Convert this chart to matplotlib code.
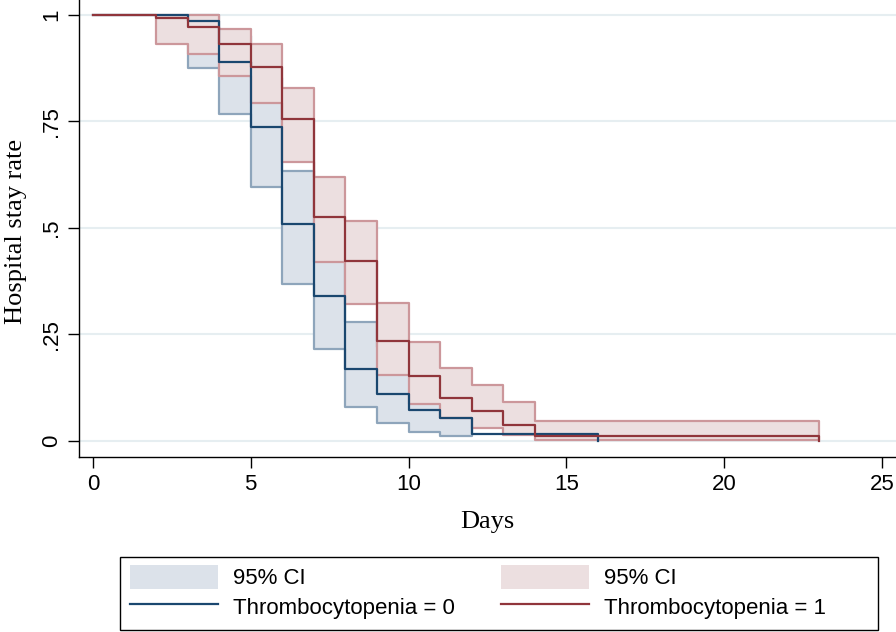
import matplotlib
matplotlib.use("Agg")
import matplotlib.pyplot as plt
from matplotlib.patches import Rectangle, Patch
from matplotlib.lines import Line2D

# Kaplan-Meier step values
days0 = [0, 3, 4, 5, 6, 7, 8, 9, 10, 11, 12, 16]
surv0 = [1.0, 0.984, 0.889, 0.737, 0.509, 0.339, 0.168, 0.111, 0.073, 0.055, 0.016, 0.0]
days1 = [0, 2, 3, 4, 5, 6, 7, 8, 9, 10, 11, 12, 13, 14, 23]
surv1 = [1.0, 0.991, 0.971, 0.930, 0.877, 0.755, 0.525, 0.422, 0.235, 0.153, 0.101, 0.070, 0.038, 0.012, 0.0]

# 95% CI bands (one value per interval, last day closes the band)
ci_days0 = [3, 4, 5, 6, 7, 8, 9, 10, 11, 12]
ci_lo0 = [0.875, 0.766, 0.595, 0.367, 0.215, 0.080, 0.043, 0.021, 0.012]
ci_hi0 = [0.999, 0.950, 0.850, 0.634, 0.470, 0.280, 0.220, 0.170, 0.130]
ci_days1 = [2, 3, 4, 5, 6, 7, 8, 9, 10, 11, 12, 13, 14, 23]
ci_lo1 = [0.932, 0.908, 0.855, 0.792, 0.653, 0.420, 0.322, 0.155, 0.086, 0.055, 0.030, 0.013, 0.002]
ci_hi1 = [1.0, 0.998, 0.966, 0.930, 0.828, 0.620, 0.517, 0.324, 0.232, 0.171, 0.132, 0.092, 0.048]

yticks = [0, 0.25, 0.5, 0.75, 1]
ytick_labels = ["0", ".25", ".5", ".75", "1"]
xticks = [0, 5, 10, 15, 20, 25]

blue_line, red_line = "#1a476f", "#90353b"
blue_fill, red_fill = "#dce2ea", "#ecdfe0"
blue_edge, red_edge = "#8ea5bb", "#cc979b"

sans = "Liberation Sans"
serif = "Liberation Serif"

fig = plt.figure(figsize=(8.96, 6.32), dpi=100)
ax = fig.add_axes([79 / 896, 1 - 457 / 632, 1 - 79 / 896, 457 / 632])

# CI bands: repeat last value so the step reaches the closing day
ax.fill_between(ci_days0, ci_lo0 + ci_lo0[-1:], ci_hi0 + ci_hi0[-1:], step="post",
                facecolor=blue_fill, edgecolor=blue_edge, linewidth=1.6, zorder=2)
ax.fill_between(ci_days1, ci_lo1 + ci_lo1[-1:], ci_hi1 + ci_hi1[-1:], step="post",
                facecolor=red_fill, edgecolor=red_edge, linewidth=1.6, zorder=3)

ax.step(days0, surv0, where="post", color=blue_line, lw=1.6, zorder=4)
ax.step(days1, surv1, where="post", color=red_line, lw=1.6, zorder=5)

ax.set_xlim(-0.44, 25.44)
ax.set_ylim(-0.0375, 1.034)

ax.set_yticks(yticks)
ax.set_yticklabels(ytick_labels, rotation=90, va="center", fontsize=16, family=sans)
ax.set_xticks(xticks)
ax.set_xticklabels([str(t) for t in xticks], fontsize=16, family=sans)
ax.tick_params(axis="both", length=8, width=1, color="black", pad=4)
ax.yaxis.grid(True, color="#e6eef1", lw=1.5, zorder=0)
ax.set_axisbelow(True)

for side in ["top", "right"]:
    ax.spines[side].set_visible(False)
ax.spines["left"].set_linewidth(1)
ax.spines["bottom"].set_linewidth(1)

ax.set_xlabel("Days", fontsize=19, family=serif, labelpad=12)
ax.set_ylabel("Hospital stay rate", fontsize=19, family=serif)
ax.yaxis.set_label_coords(-0.0636, 0.493)

# legend box
fig.patches.append(Rectangle((120 / 896, 1 - 630 / 632), (878 - 120) / 896, 73 / 632,
                             transform=fig.transFigure, facecolor="white",
                             edgecolor="black", lw=1))
handles = [Patch(facecolor=blue_fill, edgecolor="none"),
           Line2D([], [], color=blue_line, lw=1.6),
           Patch(facecolor=red_fill, edgecolor="none"),
           Line2D([], [], color=red_line, lw=1.6)]
labels = ["95% CI", "Thrombocytopenia = 0", "95% CI", "Thrombocytopenia = 1"]
fig.legend(handles, labels, ncol=2, loc="upper left",
           bbox_to_anchor=(130 / 896, 1 - 565 / 632), frameon=False, borderpad=0,
           borderaxespad=0,
           prop={"family": sans, "size": 16}, handlelength=3.95, handleheight=1.25,
           handletextpad=0.7, columnspacing=2.05, labelspacing=0.25)

fig.savefig("out.png", dpi=100)
